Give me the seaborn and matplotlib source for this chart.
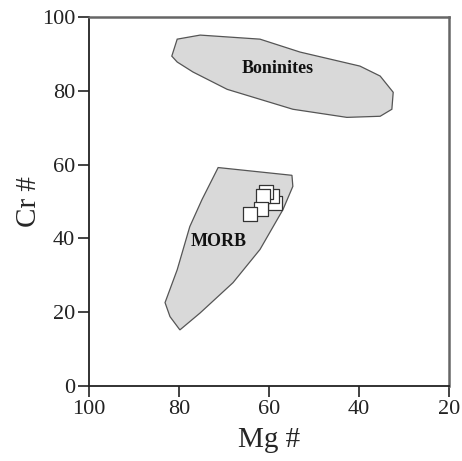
import matplotlib
matplotlib.use("Agg")
import matplotlib.pyplot as plt
import seaborn as sns
import pandas as pd

# Field outlines (Mg#, Cr#)
boninite_mg = [81.6, 80.4, 75.3, 62.0, 53.1, 39.8, 35.3, 32.4, 32.7, 35.3, 42.7, 54.7, 69.3, 76.9, 80.4]
boninite_cr = [89.4, 94.0, 95.1, 94.0, 90.5, 86.7, 84.0, 79.6, 75.0, 73.1, 72.8, 75.0, 80.4, 85.1, 87.8]

morb_mg = [71.3, 54.9, 54.7, 56.9, 62.0, 68.0, 75.3, 79.8, 82.0, 83.1, 80.4, 77.6, 74.9]
morb_cr = [59.2, 57.1, 54.1, 47.8, 37.0, 28.0, 19.8, 15.2, 18.8, 22.6, 31.5, 43.2, 50.5]

# Samples
sample_mg = [58.7, 59.3, 60.7, 61.3, 61.8, 64.2]
sample_cr = [49.7, 51.4, 52.7, 51.6, 48.1, 46.5]

x_ticks = [100, 80, 60, 40, 20]
y_ticks = [0, 20, 40, 60, 80, 100]

sns.set_style("ticks")
plt.rcParams['font.family'] = ['Liberation Serif', 'DejaVu Serif']

fig = plt.figure(figsize=(4.62, 4.61), dpi=100)
ax = fig.add_axes([0.1926, 0.1627, 0.9719 - 0.1926, 0.9631 - 0.1627])

ax.fill(boninite_mg, boninite_cr, facecolor="#d9d9d9", edgecolor="#555555", linewidth=0.9, zorder=1)
ax.fill(morb_mg, morb_cr, facecolor="#d9d9d9", edgecolor="#555555", linewidth=0.9, zorder=1)

df = pd.DataFrame({"Mg": sample_mg, "Cr": sample_cr})
sns.scatterplot(data=df, x="Mg", y="Cr", marker="s", s=110, color="white",
                edgecolor="#333333", linewidth=0.9, ax=ax, zorder=3, legend=False)

ax.text(58.0, 86.1, "Boninites", fontsize=13, fontweight="bold", ha="center", va="center", color="#111111")
ax.text(71.3, 39.1, "MORB", fontsize=13, fontweight="bold", ha="center", va="center", color="#111111")

ax.set_xlim(100, 20)
ax.set_ylim(0, 100)
ax.set_xticks(x_ticks)
ax.set_yticks(y_ticks)
ax.tick_params(axis="both", direction="out", length=8, width=1.2, labelsize=16, colors="#222222", pad=2)
ax.set_xlabel("Mg #", fontsize=21, labelpad=6)
ax.set_ylabel("Cr #", fontsize=21, labelpad=0)

for side in ["left", "bottom"]:
    ax.spines[side].set_color("#222222")
    ax.spines[side].set_linewidth(1.3)
for side in ["top", "right"]:
    ax.spines[side].set_visible(True)
    ax.spines[side].set_color("#666666")
    ax.spines[side].set_linewidth(1.8)

fig.savefig("out.png", dpi=100)
